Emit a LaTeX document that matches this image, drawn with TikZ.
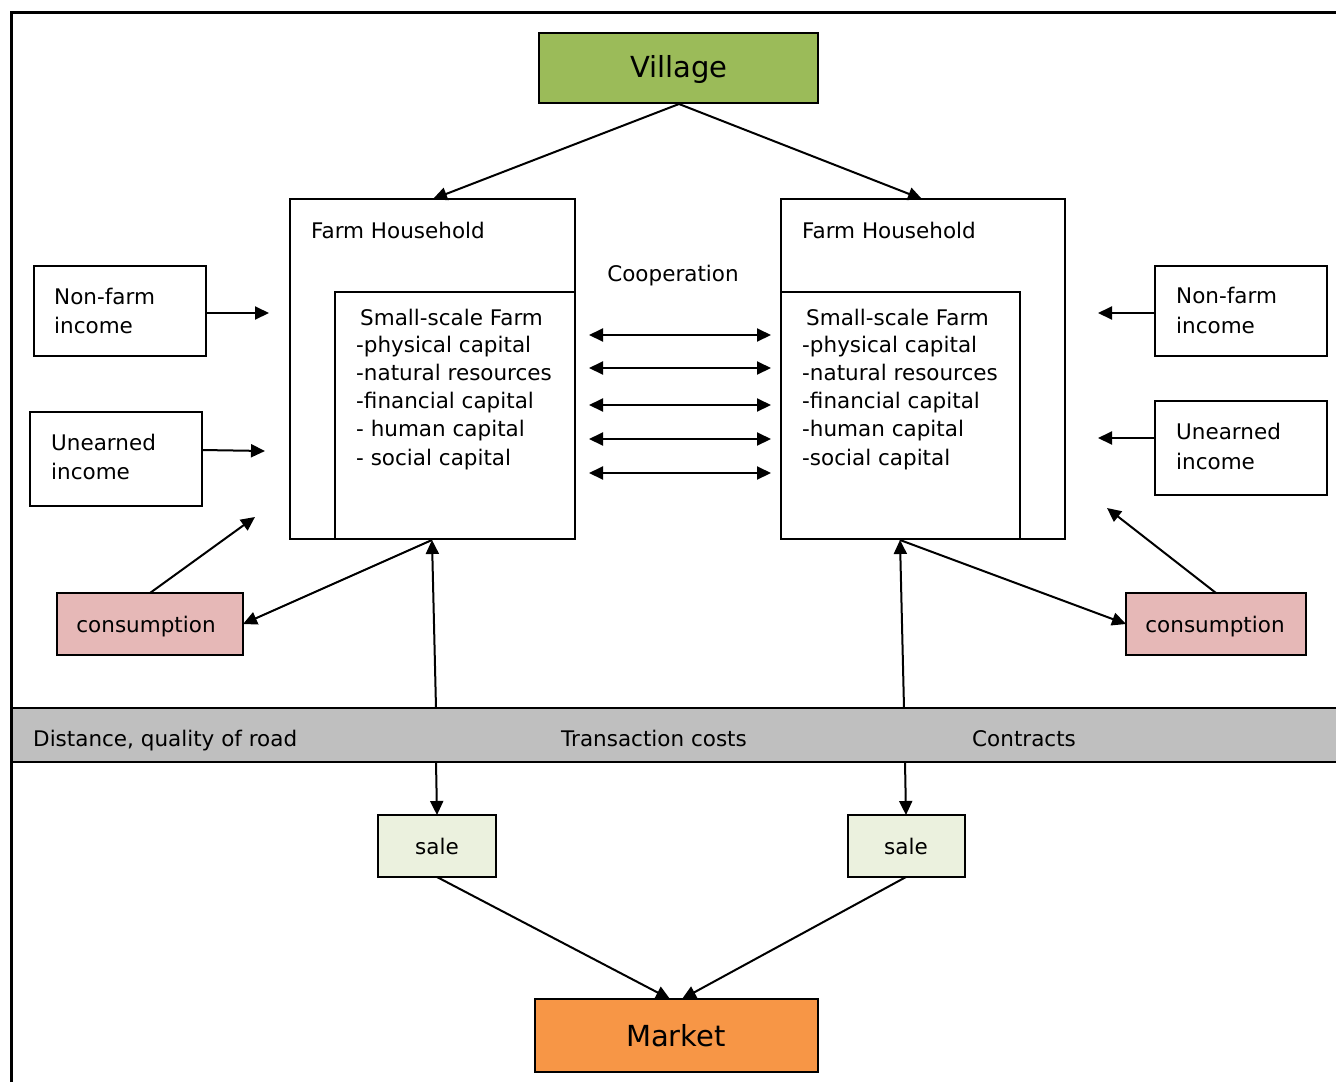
\documentclass[tikz,border=0pt]{standalone}
\usepackage{fontspec}
\setmainfont{DejaVu Sans}
\usetikzlibrary{arrows.meta}
\begin{document}
\begin{tikzpicture}[x=1pt,y=-1pt,
  box/.style={draw=black,line width=2pt},
  con/.style={line width=2pt,-{Triangle[length=14pt,width=13pt]}},
  dcon/.style={line width=2pt,{Triangle[length=14pt,width=13pt]}-{Triangle[length=14pt,width=13pt]}},
  txt/.style={inner sep=0pt,font=\fontsize{21.5}{26}\selectfont},
  big/.style={inner sep=0pt,font=\fontsize{29}{34}\selectfont}]
\useasboundingbox (0,0) rectangle (1336,1082);
% outer frame
\draw[line width=3pt] (11,1082) -- (11,12) -- (1336,12);
% boxes
\draw[box,fill={rgb,255:red,155;green,187;blue,89}] (539,33) rectangle (818,103);
\node[big,anchor=base] (village) at (679,77) {Village};
\coordinate (vb) at (679,104);
\draw[box] (290,199) rectangle (575,539);
\draw[box] (335,292) rectangle (575,539);
\draw[box] (781,199) rectangle (1065,539);
\draw[box] (781,292) rectangle (1020,539);
\coordinate (fhLtop) at (433,199);
\coordinate (fhRtop) at (922,199);
\coordinate (fhLbot) at (432,540);
\coordinate (fhRbot) at (900,540);
\node[txt,anchor=base west] (fhL) at (311,238) {Farm Household};
\node[txt,anchor=base west] (fhR) at (802,238) {Farm Household};
\node[txt,anchor=base] (coop) at (673,281) {Cooperation};
% inner texts left
\node[txt,anchor=base west] (ssL) at (360,325) {Small-scale Farm};
\node[txt,anchor=base west] (l1) at (356,352) {-physical capital};
\node[txt,anchor=base west] (l2) at (356,380) {-natural resources};
\node[txt,anchor=base west] (l3) at (356,408) {-financial capital};
\node[txt,anchor=base west] (l4) at (356,436) {- human capital};
\node[txt,anchor=base west] (l5) at (356,465) {- social capital};
% inner texts right
\node[txt,anchor=base west] (ssR) at (806,325) {Small-scale Farm};
\node[txt,anchor=base west] (r1) at (802,352) {-physical capital};
\node[txt,anchor=base west] (r2) at (802,380) {-natural resources};
\node[txt,anchor=base west] (r3) at (802,408) {-financial capital};
\node[txt,anchor=base west] (r4) at (802,436) {-human capital};
\node[txt,anchor=base west] (r5) at (802,465) {-social capital};
% cooperation arrows
\foreach \yy [count=\i] in {335,368,405,439,473}{
  \coordinate (ca\i) at (589,\yy);
  \coordinate (cb\i) at (771,\yy);
  \draw[dcon] (ca\i) -- (cb\i);
}
% side boxes left
\draw[box] (34,266) rectangle (206,356);
\node[txt,anchor=base west] (nfL1) at (54,304) {Non-farm};
\node[txt,anchor=base west] (nfL2) at (54,333) {income};
\draw[box] (30,412) rectangle (202,506);
\node[txt,anchor=base west] (ueL1) at (51,450) {Unearned};
\node[txt,anchor=base west] (ueL2) at (51,479) {income};
\coordinate (nfLo) at (206,313); \coordinate (nfLt) at (269,313);
\coordinate (ueLo) at (202,450); \coordinate (ueLt) at (265,451);
\draw[con] (nfLo) -- (nfLt);
\draw[con] (ueLo) -- (ueLt);
% side boxes right
\draw[box] (1155,266) rectangle (1327,356);
\node[txt,anchor=base west] (nfR1) at (1176,303) {Non-farm};
\node[txt,anchor=base west] (nfR2) at (1176,333) {income};
\draw[box] (1155,401) rectangle (1327,495);
\node[txt,anchor=base west] (ueR1) at (1176,439) {Unearned};
\node[txt,anchor=base west] (ueR2) at (1176,469) {income};
\coordinate (nfRo) at (1155,313); \coordinate (nfRt) at (1098,313);
\coordinate (ueRo) at (1155,438); \coordinate (ueRt) at (1098,438);
\draw[con] (nfRo) -- (nfRt);
\draw[con] (ueRo) -- (ueRt);
% consumption
\draw[box,fill={rgb,255:red,230;green,184;blue,183}] (57,593) rectangle (243,655);
\node[txt,anchor=base] (consL) at (146,632) {consumption};
\draw[box,fill={rgb,255:red,230;green,184;blue,183}] (1126,593) rectangle (1306,655);
\node[txt,anchor=base] (consR) at (1215,632) {consumption};
\coordinate (cLtop) at (150,593); \coordinate (cLt) at (255,517);
\coordinate (cLside) at (243,624);
\coordinate (cRtop) at (1216,593); \coordinate (cRt) at (1107,508);
\coordinate (cRside) at (1126,624);
\draw[con] (cLtop) -- (cLt);
\draw[con] (fhLbot) -- (cLside);
\draw[con] (cRtop) -- (cRt);
\draw[con] (fhRbot) -- (cRside);
% village arrows
\draw[con] (vb) -- (fhLtop);
\draw[con] (vb) -- (fhRtop);
% grey bar
\draw[box,fill={rgb,255:red,191;green,191;blue,191}] (12,708) rectangle (1340,762);
\node[txt,anchor=base west] (dist) at (33,746) {Distance, quality of road};
\node[txt,anchor=base west] (trans) at (561,746) {Transaction costs};
\node[txt,anchor=base west] (contr) at (972,746) {Contracts};
\coordinate (barLt) at (436,708); \coordinate (barRt) at (904,708);
\coordinate (barLb) at (436,762); \coordinate (barRb) at (905,762);
\draw[con] (barLt) -- (fhLbot);
\draw[con] (barRt) -- (fhRbot);
% sale
\draw[box,fill={rgb,255:red,235;green,241;blue,222}] (378,815) rectangle (496,877);
\node[txt,anchor=base] (saleL) at (437,854) {sale};
\draw[box,fill={rgb,255:red,235;green,241;blue,222}] (848,815) rectangle (965,877);
\node[txt,anchor=base] (saleR) at (906,854) {sale};
\coordinate (sLt) at (437,815); \coordinate (sRt) at (906,815);
\coordinate (sLb) at (437,877); \coordinate (sRb) at (906,877);
\draw[con] (barLb) -- (sLt);
\draw[con] (barRb) -- (sRt);
% market
\draw[box,fill={rgb,255:red,247;green,150;blue,70}] (535,999) rectangle (818,1072);
\node[big,anchor=base] (market) at (676,1046) {Market};
\coordinate (mL) at (670,999); \coordinate (mR) at (682,999);
\draw[con] (sLb) -- (mL);
\draw[con] (sRb) -- (mR);
\end{tikzpicture}
\end{document}
